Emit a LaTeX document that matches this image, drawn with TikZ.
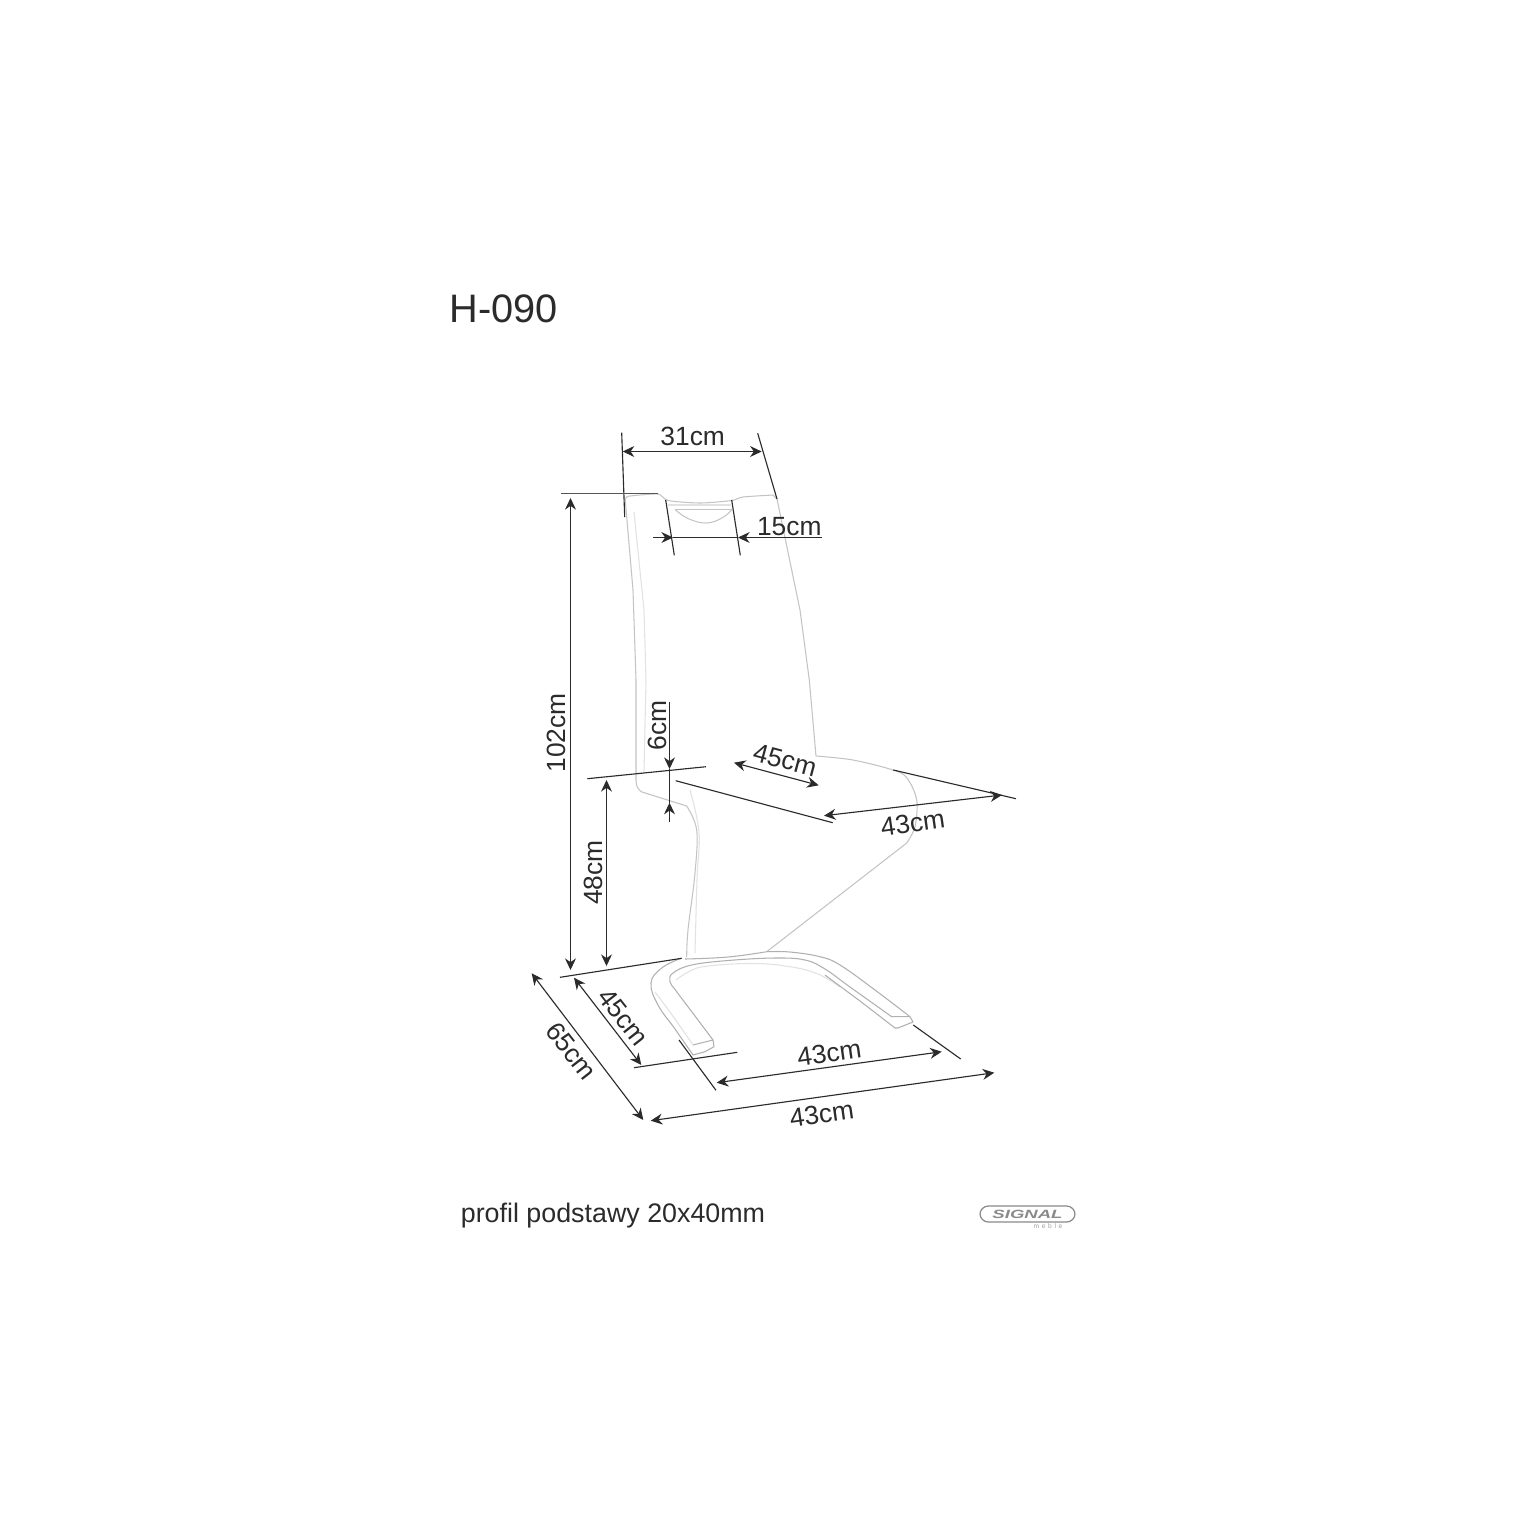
\documentclass[tikz,border=0pt]{standalone}
\usepackage{fontspec}
\setmainfont{Liberation Sans}
\usetikzlibrary{arrows.meta}
\definecolor{ink}{HTML}{2B2B2B}
\definecolor{chair}{HTML}{C4C4C4}
\definecolor{seam}{HTML}{E2E2E2}
\definecolor{basecol}{HTML}{B0B0B0}
\definecolor{logo}{HTML}{8A8A8A}
\tikzset{
  dim/.style={draw=ink,line width=0.32pt,{Stealth[length=3.3pt,width=3.1pt]}-{Stealth[length=3.3pt,width=3.1pt]}},
  dimone/.style={draw=ink,line width=0.32pt,-{Stealth[length=3.3pt,width=3.1pt]}},
  ext/.style={draw=ink,line width=0.32pt},
  outline/.style={draw=chair,line width=0.3pt,line join=round},
  seamline/.style={draw=seam,line width=0.3pt},
  baseline/.style={draw=basecol,line width=0.3pt,line join=round},
  lab/.style={inner sep=0pt,text=ink,font=\fontsize{7.5pt}{9pt}\selectfont},
}
\begin{document}
\begin{tikzpicture}[x=0.01cm,y=-0.01cm]
\path[use as bounding box,fill=white] (0,0) rectangle (1520,1520);
% chair body
\draw[outline] plot[smooth,tension=0.45] coordinates {(630,496) (658,494) (668,500.5) (700,503) (731.7,500.5) (743,497) (773,495)};
\draw[outline] (630,496) .. controls (626,496) and (625,498) .. (625.5,503) -- (633,590) -- (636,680) -- (636,780)
  .. controls (636,786) and (638,790) .. (642,792) -- (686.7,806);
\draw[outline] (773,495) -- (777,499) -- (800,610) -- (809.3,680) -- (816,756);
\draw[outline] plot[smooth,tension=0.55] coordinates {(816,756) (853,760) (893,770) (907,778) (916.7,800) (915,826.7) (906.7,843)};
\draw[outline] (906.7,843) -- (766.7,951.7);
\draw[outline] plot[smooth,tension=0.6] coordinates {(686.7,806) (696.7,830) (695,873) (688,930) (686.7,957)};
\draw[seamline] plot[smooth,tension=0.6] coordinates {(690,790) (699,832) (697,880) (695,953)};
\draw[seamline] (634,512) -- (644,610) -- (646,680) -- (644,772);
\draw[seamline] (668,505) -- (731,505);
\draw[outline] (675,509.5) -- (732,509.5);
\draw[outline] plot[smooth,tension=0.7] coordinates {(675,509.5) (688,518.5) (706,523) (722,518) (732,509.5)};
% base
\draw[baseline] plot[smooth,tension=0.7] coordinates {(681.7,958) (661.7,968) (651,983) (658,1005) (675,1029) (693,1055)};
\draw[baseline] (693,1055) -- (705,1051.7) -- (714,1046.7) -- (713,1040) -- (693,1045);
\draw[seamline] plot[smooth,tension=0.5] coordinates {(655,992) (670,1012) (693,1045)};
\draw[baseline] plot[smooth,tension=0.7] coordinates {(685,959) (728,957) (766.7,951.7)};
\draw[baseline] plot[smooth,tension=0.65] coordinates {(713,1040) (695,1016) (676.7,991.7) (670,981.7) (673,973) (691.7,965) (728,960.5) (775,958) (805,960) (825,969) (850,987) (891.7,1016.7)};
\draw[seamline] plot[smooth,tension=0.7] coordinates {(676,980) (690,971) (708,966) (753,963.5) (790,966.7) (818,974) (840,987)};
\draw[baseline] plot[smooth,tension=0.65] coordinates {(766.7,951.7) (790,952) (820,956.7) (840,965) (875,990) (910,1016.7)};
\draw[baseline] (825,975) -- (860,1001) -- (895,1028) -- (898,1028) -- (913,1022) -- (910,1016.7) -- (891.7,1016.7);
% extension lines
\coordinate (a1) at (621.7,432.7); \coordinate (a2) at (624.7,517);
\coordinate (b1) at (757.7,433.3); \coordinate (b2) at (777,499);
\coordinate (c1) at (560.7,493.5); \coordinate (c2) at (658,493.5);
\coordinate (d1) at (665.7,500); \coordinate (d2) at (674.3,555.3);
\coordinate (e1) at (731.7,500); \coordinate (e2) at (740.3,555.3);
\coordinate (f1) at (587.3,778.7); \coordinate (f2) at (706,766.7);
\coordinate (g1) at (675.7,780.7); \coordinate (g2) at (832.7,822.7);
\coordinate (h1) at (893.3,770); \coordinate (h2) at (1016,798.7);
\coordinate (i1) at (560,977.3); \coordinate (i2) at (681.7,958.3);
\coordinate (j1) at (634,1067.7); \coordinate (j2) at (737.3,1052.3);
\coordinate (k1) at (679,1040); \coordinate (k2) at (716,1090.3);
\coordinate (l1) at (913.3,1025); \coordinate (l2) at (960.7,1059);
\foreach \p in {a,b,d,e,f,g,h,i,j,k,l} \draw[ext] (\p1) -- (\p2);
\draw[draw=ink!80,line width=0.42pt] (c1) -- (c2);
% dimension arrows
\coordinate (m1) at (622.7,451.5); \coordinate (m2) at (761.7,451.5);
\draw[dim] (m1) -- (m2);
\coordinate (n1) at (570.5,498); \coordinate (n2) at (570.5,970);
\draw[dim] (n1) -- (n2);
\coordinate (o1) at (606.5,780); \coordinate (o2) at (606.5,966);
\draw[dim] (o1) -- (o2);
\coordinate (p1) at (734,762.7); \coordinate (p2) at (818.7,785.3);
\draw[dim] (p1) -- (p2);
\coordinate (q1) at (824,815.7); \coordinate (q2) at (1002,795);
\draw[dim] (q1) -- (q2);
\coordinate (r1) at (531.7,973.3); \coordinate (r2) at (643.3,1120);
\draw[dim] (r1) -- (r2);
\coordinate (s1) at (574,977.7); \coordinate (s2) at (641.3,1065);
\draw[dim] (s1) -- (s2);
\coordinate (t1) at (716.7,1082.7); \coordinate (t2) at (941.7,1051.7);
\draw[dim] (t1) -- (t2);
\coordinate (u1) at (650.7,1120.7); \coordinate (u2) at (994.3,1072.7);
\draw[dim] (u1) -- (u2);
\coordinate (v1) at (653.3,537.5); \coordinate (v2) at (673,537.5);
\draw[dimone] (v1) -- (v2);
\coordinate (w1) at (821.7,537.5); \coordinate (w2) at (738,537.5);
\draw[dimone] (w1) -- (w2);
\draw[ext] (v2) -- (w2);
\coordinate (y1) at (669.5,701.7); \coordinate (y2) at (669.5,769);
\draw[dimone] (y1) -- (y2);
\coordinate (z1) at (669.5,821.7); \coordinate (z2) at (669.5,802.7);
\draw[dimone] (z1) -- (z2);
\draw[ext] (y2) -- (z2);
% labels
\node[lab] (l31) at (692.7,436) {31cm};
\node[lab] (l15) at (789.3,527) {15cm};
\node[lab,rotate=90] (l102) at (556,733) {102cm};
\node[lab,rotate=90] (l6) at (657,725.7) {6cm};
\node[lab,rotate=90] (l48) at (593.3,872.7) {48cm};
\node[lab,rotate=-15] (l45a) at (785,760) {45cm};
\node[lab,rotate=8] (l43a) at (912.7,823.3) {43cm};
\node[lab,rotate=-52] (l45b) at (623,1017) {45cm};
\node[lab,rotate=-52] (l65) at (571.5,1051) {65cm};
\node[lab,rotate=8] (l43b) at (829.3,1052.7) {43cm};
\node[lab,rotate=8] (l43c) at (821.7,1114) {43cm};
\node[inner sep=0pt,text=ink,font=\fontsize{11.3pt}{13pt}\selectfont] (title) at (504,309) {H-090};
\node[inner sep=0pt,text=ink,font=\fontsize{7.63pt}{9pt}\selectfont] (note) at (613,1216) {\strut profil podstawy 20x40mm};
% logo
\node[draw=logo,line width=0.35pt,rounded corners=2.4pt,minimum width=0.95cm,minimum height=0.16cm,inner sep=0pt] (logobox) at (1027.5,1214) {};
\node[inner sep=0pt,text=logo,xscale=1.55,font=\fontsize{3.4pt}{4pt}\selectfont\bfseries\itshape] (logotext) at (1027.5,1214) {SIGNAL};
\node[inner sep=0pt,text=logo!80,font=\fontsize{1.9pt}{3pt}\selectfont\addfontfeature{LetterSpace=40}] (logosub) at (1048,1226) {meble};
\end{tikzpicture}
\end{document}
